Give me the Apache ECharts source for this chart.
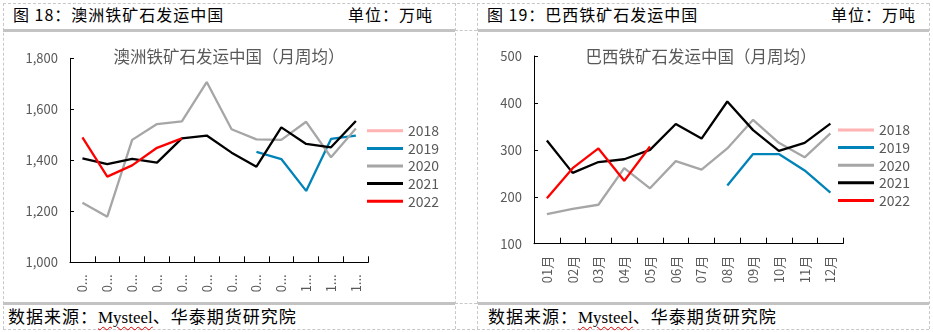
<!DOCTYPE html>
<html>
<head>
<meta charset="utf-8">
<script src="https://cdn.jsdelivr.net/npm/echarts@6/dist/echarts.min.js"></script>
<style>
  html, body { margin: 0; padding: 0; background: #fff; }
  #page { position: relative; width: 933px; height: 332px; overflow: hidden; font-family: "Noto Sans CJK SC", sans-serif; }
  .vd { position: absolute; top: 3px; height: 326px; width: 0; border-left: 1px dashed #c8c8c8; }
  .hd { position: absolute; height: 0; border-top: 1px dashed #c8c8c8; }
  .bar { position: absolute; height: 3px; background: #c3c3c3; }
  .txt { position: absolute; font-size: 16px; line-height: 20px; color: #000; letter-spacing: 1px; white-space: nowrap; }
  .foot { font-size: 17px; letter-spacing: 1px; }
  .src { font-family: "Liberation Serif", serif; letter-spacing: 0; text-decoration: underline wavy #e00000; text-decoration-thickness: 1px; text-underline-offset: 3px; }
  #chart { position: absolute; left: 0; top: 0; width: 933px; height: 332px; }
</style>
</head>
<body>
<div id="page">
  <!-- table frame -->
  <div class="vd" style="left:3px"></div>
  <div class="vd" style="left:455px"></div>
  <div class="vd" style="left:477px"></div>
  <div class="vd" style="left:929px"></div>
  <div class="hd" style="left:3px;width:926px;top:3px"></div>
  <div class="hd" style="left:3px;width:926px;top:329px"></div>
  <div class="hd" style="left:455px;width:22px;top:30px"></div>
  <div class="hd" style="left:455px;width:22px;top:303px"></div>
  <div class="bar" style="left:3px;width:452px;top:29px"></div>
  <div class="bar" style="left:478px;width:451px;top:29px"></div>
  <div class="bar" style="left:3px;width:452px;top:302px"></div>
  <div class="bar" style="left:478px;width:451px;top:302px"></div>

  <!-- headers -->
  <div class="txt" style="left:13px;top:4px">图 18：澳洲铁矿石发运中国</div>
  <div class="txt" style="right:500px;top:4px">单位：万吨</div>
  <div class="txt" style="left:487px;top:4px">图 19：巴西铁矿石发运中国</div>
  <div class="txt" style="right:17px;top:4px">单位：万吨</div>

  <!-- sources -->
  <div class="txt foot" style="left:8px;top:306px">数据来源：<span class="src">Mysteel</span>、华泰期货研究院</div>
  <div class="txt foot" style="left:488px;top:306px">数据来源：<span class="src">Mysteel</span>、华泰期货研究院</div>

  <div id="chart"></div>
</div>
<script>
// Month categories shared by both panels
const months = ['01月', '02月', '03月', '04月', '05月', '06月', '07月', '08月', '09月', '10月', '11月', '12月'];
const years = ['2018', '2019', '2020', '2021', '2022'];
const yearColors = ['#ffb3b3', '#0083b8', '#a6a6a6', '#000000', '#ff0000'];

// Australia shipments to China, monthly average of weekly data (10k t)
const aus2018 = [];
const aus2019 = [null, null, null, null, null, null, null, 1433, 1405, 1280, 1484, 1497];
const aus2020 = [1234, 1179, 1480, 1542, 1553, 1707, 1522, 1482, 1480, 1551, 1412, 1525];
const aus2021 = [1408, 1385, 1406, 1391, 1486, 1497, 1430, 1375, 1529, 1464, 1451, 1554];
const aus2022 = [1490, 1336, 1380, 1449, 1486];

// Brazil shipments to China, monthly average of weekly data (10k t)
const bra2018 = [];
const bra2019 = [null, null, null, null, null, null, null, 224, 291, 291, 256, 209];
const bra2020 = [163, 174, 183, 261, 218, 276, 258, 303, 364, 315, 284, 335];
const bra2021 = [320, 251, 274, 280, 300, 355, 324, 403, 342, 298, 315, 356];
const bra2022 = [197, 261, 303, 234, 307];

// Value axis ranges
const ausAxis = { min: 1000, max: 1800, interval: 200 };
const braAxis = { min: 100, max: 500, interval: 100 };

const ausSeries = [aus2018, aus2019, aus2020, aus2021, aus2022];
const braSeries = [bra2018, bra2019, bra2020, bra2021, bra2022];

const labelColor = '#595959';
const fontFamily = '"Noto Sans CJK SC", sans-serif';

function catAxis(gridIndex, truncate) {
  const label = { rotate: 90, margin: 12, fontSize: 13, color: labelColor, fontFamily: fontFamily };
  if (truncate) { label.width = 20; label.overflow = 'truncate'; label.ellipsis = '...'; }
  return {
    type: 'category', gridIndex: gridIndex, data: months, boundaryGap: true,
    axisLine: { lineStyle: { color: '#000', width: 1 } },
    axisTick: { show: true, inside: true, length: 6, lineStyle: { color: '#000' } },
    axisLabel: label,
    splitLine: { show: false }
  };
}

function valAxis(gridIndex, range, useComma) {
  return {
    type: 'value', gridIndex: gridIndex, min: range.min, max: range.max, interval: range.interval,
    axisLine: { show: true, lineStyle: { color: '#000', width: 1 } },
    axisTick: { show: true, inside: true, length: 4, lineStyle: { color: '#000' } },
    axisLabel: {
      margin: 12, fontSize: 13, color: labelColor, fontFamily: fontFamily,
      formatter: v => useComma ? v.toLocaleString('en-US') : String(v)
    },
    splitLine: { show: false }
  };
}

function lineSeries(list, axisIndex) {
  return list.map((data, i) => ({
    name: years[i], type: 'line', xAxisIndex: axisIndex, yAxisIndex: axisIndex,
    data: data, showSymbol: false, symbol: 'none', animation: false,
    itemStyle: { color: yearColors[i] },
    lineStyle: { color: yearColors[i], width: 2.3 }
  }));
}

function legendAt(left, top) {
  return {
    orient: 'vertical', left: left, top: top, padding: 0, icon: 'rect', itemWidth: 36, itemHeight: 3,
    itemGap: 0, selectedMode: false, data: years,
    textStyle: { fontSize: 14, color: labelColor, lineHeight: 17.6, fontFamily: fontFamily }
  };
}

const chart = echarts.init(document.getElementById('chart'), null, { renderer: 'canvas' });
chart.setOption({
  animation: false,
  backgroundColor: 'transparent',
  color: yearColors,
  grid: [
    { left: 70, top: 58.3, width: 298.3, height: 204, containLabel: false },
    { left: 534, top: 56, width: 309.3, height: 187.7, containLabel: false }
  ],
  xAxis: [catAxis(0, true), catAxis(1, false)],
  yAxis: [valAxis(0, ausAxis, true), valAxis(1, braAxis, false)],
  legend: [legendAt(367, 122), legendAt(838, 121.2)],
  graphic: [
    { type: 'text', x: 229, y: 56.5, style: { text: '澳洲铁矿石发运中国（月周均）', fill: labelColor, font: '16.5px ' + fontFamily, align: 'center', verticalAlign: 'middle' } },
    { type: 'text', x: 701, y: 56.5, style: { text: '巴西铁矿石发运中国（月周均）', fill: labelColor, font: '16.5px ' + fontFamily, align: 'center', verticalAlign: 'middle' } }
  ],
  series: lineSeries(ausSeries, 0).concat(lineSeries(braSeries, 1))
});
</script>
</body>
</html>
